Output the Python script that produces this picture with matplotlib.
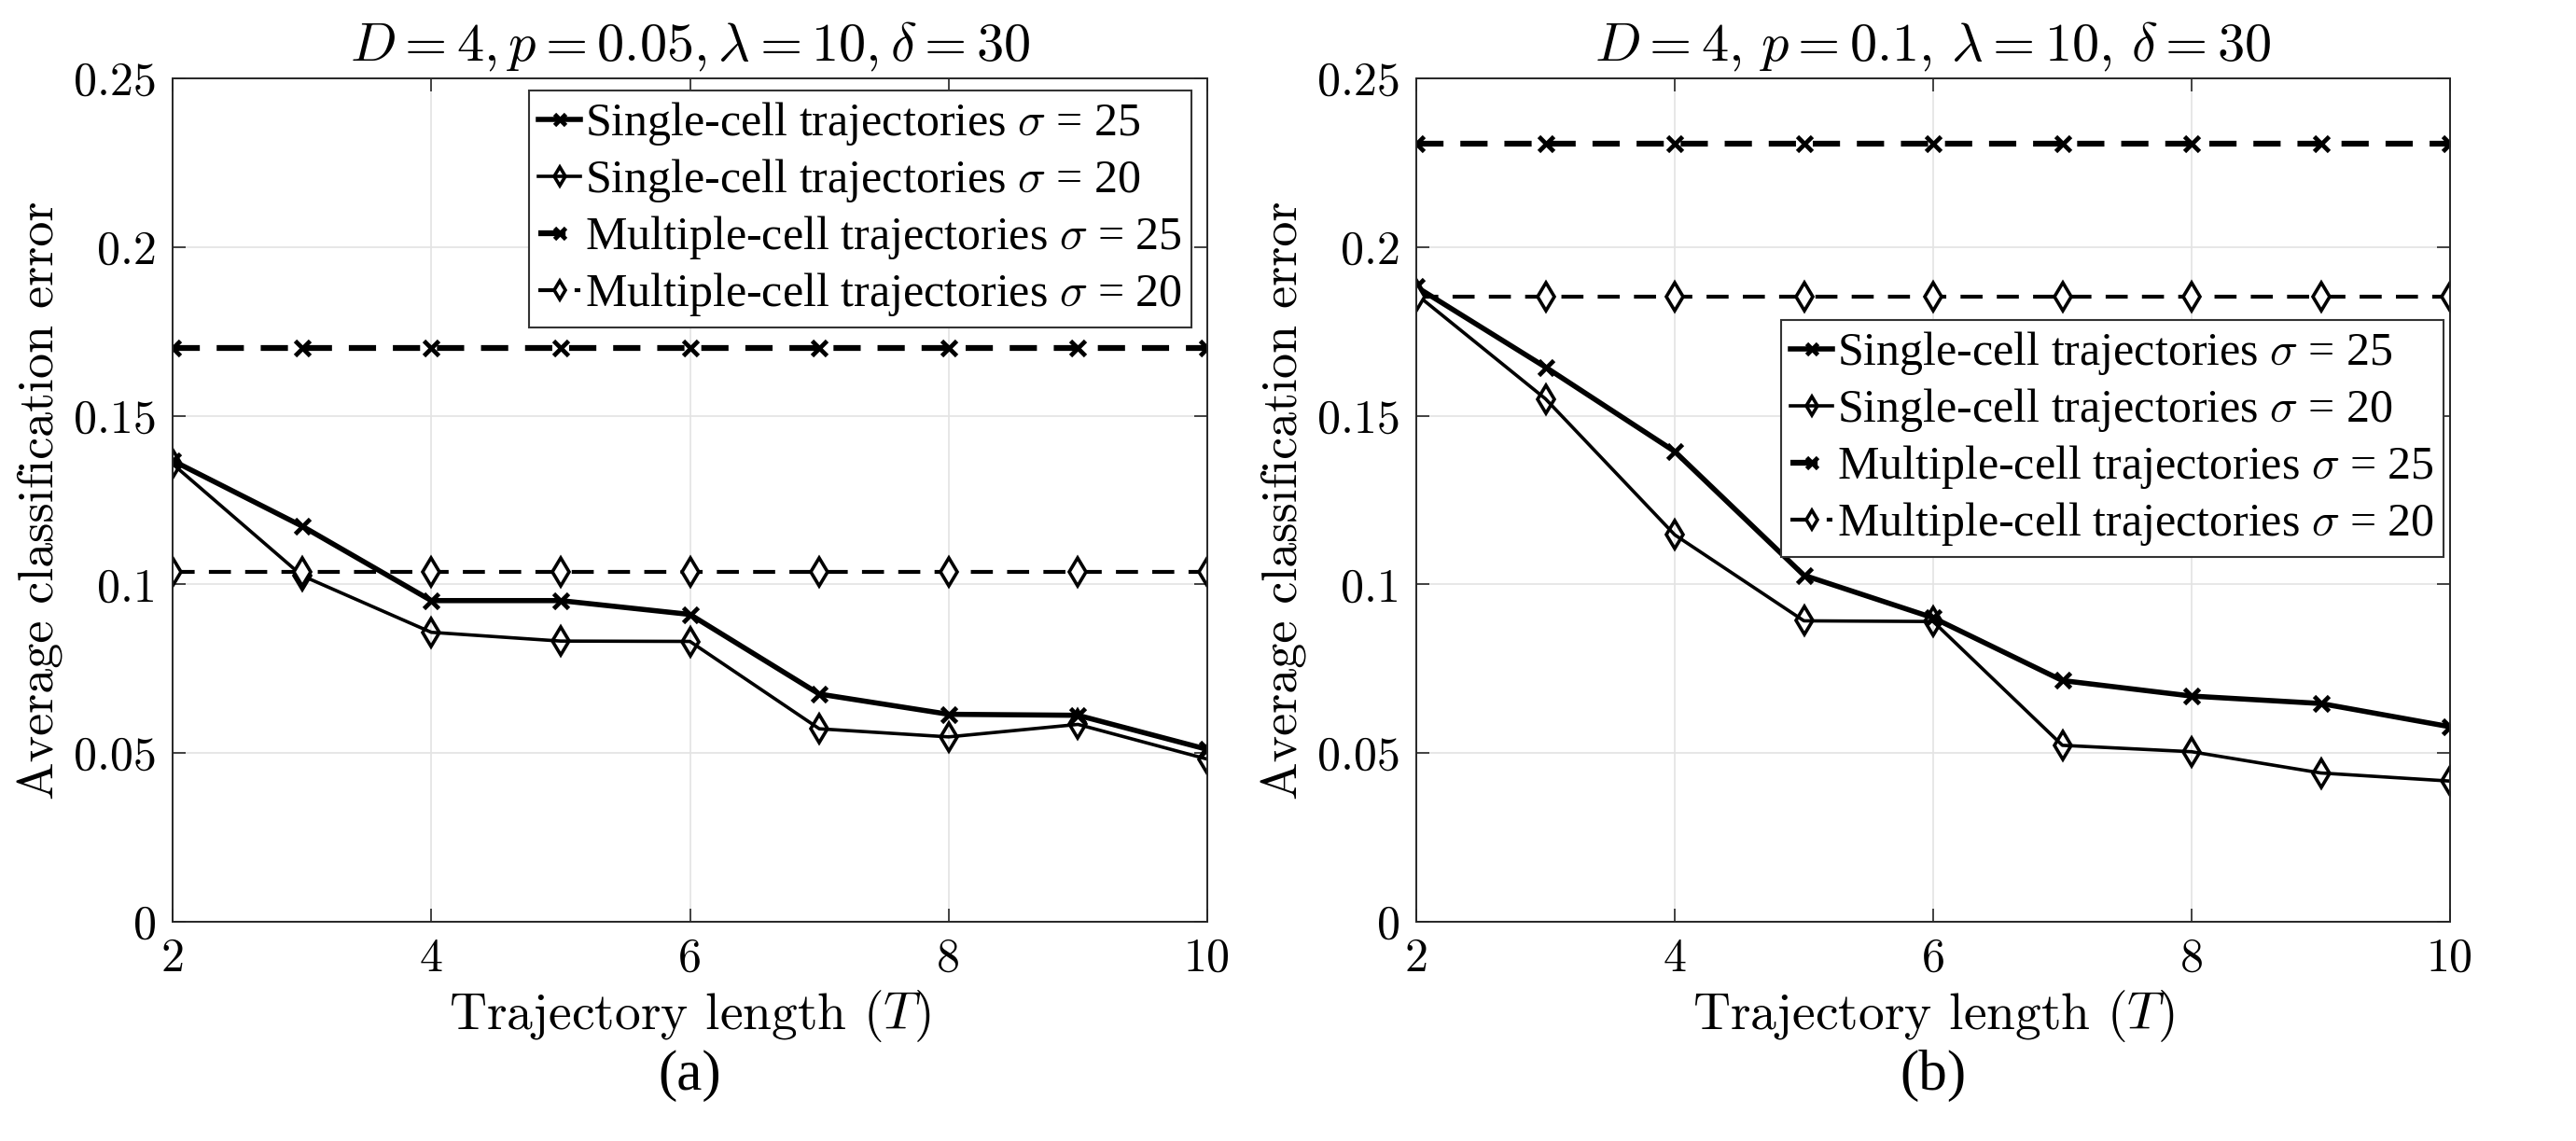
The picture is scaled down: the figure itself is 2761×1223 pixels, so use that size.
import matplotlib
matplotlib.use("Agg")
import matplotlib.pyplot as plt

plt.rcParams['mathtext.fontset'] = 'cm'
plt.rcParams['lines.scale_dashes'] = False
plt.rcParams['axes.formatter.use_mathtext'] = True

# ---------------- data ----------------
T = [2, 3, 4, 5, 6, 7, 8, 9, 10]

# panel (a): D=4, p=0.05
a_single25 = [0.1367, 0.1173, 0.0952, 0.0952, 0.0911, 0.0675, 0.0615, 0.0612, 0.0511]
a_single20 = [0.1357, 0.1026, 0.0858, 0.0832, 0.0831, 0.0572, 0.0548, 0.0585, 0.0482]
a_multi25 = [0.170] * 9
a_multi20 = [0.1037] * 9

# panel (b): D=4, p=0.1
b_single25 = [0.1882, 0.1644, 0.1394, 0.1027, 0.0901, 0.0715, 0.0669, 0.0647, 0.0578]
b_single20 = [0.1860, 0.1550, 0.1147, 0.0892, 0.0890, 0.0523, 0.0504, 0.0441, 0.0417]
b_multi25 = [0.2306] * 9
b_multi20 = [0.1852] * 9

titles = [r'$D = 4, p = 0.05, \lambda = 10, \delta = 30$',
          r'$D = 4,\, p = 0.1,\, \lambda = 10,\, \delta = 30$']
panel_labels = ['(a)', '(b)']
series_labels = [r'Single-cell trajectories $\it{\sigma}$ = 25',
                 r'Single-cell trajectories $\it{\sigma}$ = 20',
                 r'Multiple-cell trajectories $\it{\sigma}$ = 25',
                 r'Multiple-cell trajectories $\it{\sigma}$ = 20']
xticks = [2, 4, 6, 8, 10]
xtick_labels = ['2', '4', '6', '8', '10']
yticks = [0, 0.05, 0.1, 0.15, 0.2, 0.25]
ytick_labels = ['0', '0.05', '0.1', '0.15', '0.2', '0.25']
xlabel = r'Trajectory length ($T$)'
ylabel = 'Average classification error'

serif = ['Liberation Serif', 'DejaVu Serif']
plt.rcParams['mathtext.it'] = 'Liberation Serif:italic'

# ---------------- figure ----------------
W, H = 2761, 1223
fig = plt.figure(figsize=(W / 100, H / 100), dpi=100)

axes_rects = [[185 / W, 1 - 988 / H, (1294 - 185) / W, (988 - 84) / H],
              [1518 / W, 1 - 988 / H, (2626 - 1518) / W, (988 - 84) / H]]
legend_anchor = [(1277 / W, 1 - 97 / H), (2619 / W, 1 - 343 / H)]

panels = [(a_single25, a_single20, a_multi25, a_multi20),
          (b_single25, b_single20, b_multi25, b_multi20)]

for i, (s25, s20, m25, m20) in enumerate(panels):
    ax = fig.add_axes(axes_rects[i])
    ax.plot(T, s25, color='black', lw=4.0, marker='x', ms=12, mew=3.4,
            label=series_labels[0])
    ax.plot(T, s20, color='black', lw=2.6, marker='d', ms=15, mew=2.6,
            mfc='none', label=series_labels[1])
    ax.plot(T, m25, color='black', lw=4.5, marker='x', ms=12, mew=3.4,
            dashes=(21, 13), label=series_labels[2])
    ax.plot(T, m20, color='black', lw=3.0, marker='d', ms=15, mew=2.6,
            mfc='white', dashes=(17, 11), label=series_labels[3])

    ax.set_xlim(2, 10)
    ax.set_ylim(0, 0.25)
    ax.set_xticks(xticks)
    ax.set_xticklabels(xtick_labels, family='cmr10', fontsize=36)
    ax.set_yticks(yticks)
    ax.set_yticklabels(ytick_labels, family='cmr10', fontsize=36)
    ax.tick_params(direction='in', length=10, width=1.2, top=True, right=True,
                   color='#262626', pad=12)
    ax.grid(True, color='#e3e3e3', lw=1.2)
    ax.set_axisbelow(True)
    for sp in ax.spines.values():
        sp.set_color('#262626')
        sp.set_linewidth(1.4)

    ax.set_title(titles[i], fontsize=42, pad=14)
    ax.set_xlabel(xlabel, family='cmr10', fontsize=40, labelpad=6)
    ax.set_ylabel(ylabel, family='cmr10', fontsize=39, labelpad=8)

    leg = ax.legend(loc='upper right', bbox_to_anchor=legend_anchor[i],
                    bbox_transform=fig.transFigure, borderaxespad=0,
                    prop={'family': serif, 'size': 36},
                    fancybox=False, framealpha=1, edgecolor='#333333',
                    labelspacing=0.2, handletextpad=0.1, borderpad=0.2,
                    handlelength=0.9, markerscale=0.7)
    leg.get_frame().set_linewidth(1.5)

    cx = axes_rects[i][0] + axes_rects[i][2] / 2
    fig.text(cx, 0.057, panel_labels[i], ha='center', va='center',
             family=serif, fontsize=44)

fig.savefig('out.png', dpi=100)
